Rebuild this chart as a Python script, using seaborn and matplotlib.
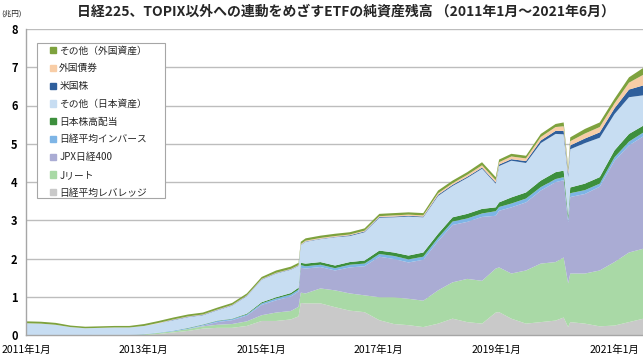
import pandas as pd
import numpy as np
import matplotlib.pyplot as plt
import matplotlib.patches as mpatches
import seaborn as sns

# Fechas de lectura (aprox. trimestrales + caídas puntuales)
dates = ["2011-01-01", "2011-04-01", "2011-07-01", "2011-10-01",
         "2012-01-01", "2012-04-01", "2012-07-01", "2012-10-01",
         "2013-01-01", "2013-04-01", "2013-07-01", "2013-10-01",
         "2014-01-01", "2014-04-01", "2014-07-01", "2014-10-01",
         "2015-01-01", "2015-04-01", "2015-07-01", "2015-08-18", "2015-09-01", "2015-10-01",
         "2016-01-01", "2016-04-01", "2016-07-01", "2016-10-01",
         "2017-01-01", "2017-04-01", "2017-07-01", "2017-10-01",
         "2018-01-01", "2018-04-01", "2018-07-01", "2018-10-01", "2018-12-25",
         "2019-01-15", "2019-04-01", "2019-07-01", "2019-10-01",
         "2020-01-01", "2020-02-20", "2020-03-19", "2020-04-01", "2020-07-01", "2020-10-01",
         "2021-01-01", "2021-04-01", "2021-06-30"]

# 兆円, grosor de cada capa (de abajo hacia arriba)
leverage = [0, 0, 0, 0,
            0, 0, 0, 0,
            0.01, 0.04, 0.08, 0.12,
            0.18, 0.20, 0.20, 0.25,
            0.38, 0.38, 0.42, 0.50, 0.85, 0.84,
            0.84, 0.74, 0.65, 0.61,
            0.40, 0.30, 0.27, 0.22,
            0.31, 0.44, 0.35, 0.31, 0.60,
            0.61, 0.44, 0.31, 0.35,
            0.39, 0.47, 0.22, 0.35, 0.31, 0.24,
            0.26, 0.35, 0.44]
jreit = [0, 0, 0, 0,
         0, 0.01, 0.01, 0.01,
         0.02, 0.03, 0.03, 0.05,
         0.06, 0.08, 0.10, 0.12,
         0.15, 0.22, 0.22, 0.25, 0.27, 0.26,
         0.39, 0.44, 0.45, 0.44,
         0.60, 0.70, 0.69, 0.69,
         0.87, 0.95, 1.13, 1.12, 1.15,
         1.17, 1.18, 1.39, 1.53,
         1.53, 1.57, 1.14, 1.27, 1.31, 1.46,
         1.66, 1.82, 1.83]
jpx400 = [0, 0, 0, 0,
          0, 0, 0, 0,
          0, 0, 0, 0,
          0.02, 0.07, 0.10, 0.15,
          0.27, 0.32, 0.38, 0.40, 0.65, 0.65,
          0.56, 0.52, 0.68, 0.76,
          1.06, 1.00, 0.95, 1.07,
          1.29, 1.50, 1.49, 1.67, 1.38,
          1.48, 1.73, 1.78, 1.91,
          2.09, 2.02, 1.60, 2.00, 2.08, 2.19,
          2.65, 2.80, 2.94]
inverse = [0.01, 0.01, 0.01, 0.01,
           0.01, 0.01, 0.01, 0.01,
           0.01, 0.01, 0.02, 0.02,
           0.02, 0.03, 0.03, 0.03,
           0.04, 0.05, 0.05, 0.05, 0.07, 0.06,
           0.06, 0.06, 0.07, 0.07,
           0.07, 0.08, 0.08, 0.08,
           0.08, 0.09, 0.09, 0.09, 0.12,
           0.10, 0.10, 0.10, 0.09,
           0.08, 0.08, 0.08, 0.10, 0.10, 0.08,
           0.09, 0.10, 0.10]
high_div = [0, 0, 0, 0,
            0, 0, 0, 0,
            0, 0, 0, 0.01,
            0.01, 0.01, 0.01, 0.02,
            0.03, 0.03, 0.04, 0.05, 0.06, 0.07,
            0.07, 0.07, 0.07, 0.08,
            0.09, 0.09, 0.10, 0.11,
            0.11, 0.11, 0.12, 0.12, 0.10,
            0.12, 0.16, 0.16, 0.17,
            0.18, 0.17, 0.10, 0.15, 0.17, 0.17,
            0.18, 0.20, 0.18]
other_jp = [0.31, 0.30, 0.27, 0.21,
            0.18, 0.18, 0.19, 0.19,
            0.21, 0.24, 0.27, 0.28,
            0.24, 0.27, 0.34, 0.46,
            0.59, 0.62, 0.61, 0.57, 0.46, 0.57,
            0.60, 0.74, 0.68, 0.74,
            0.86, 0.92, 1.02, 0.92,
            0.99, 0.82, 0.94, 1.05, 0.62,
            0.95, 0.96, 0.77, 0.98,
            1.00, 0.95, 1.00, 1.00, 1.06, 1.03,
            0.95, 0.96, 0.79]
us_stock = [0, 0, 0, 0,
            0, 0, 0, 0,
            0, 0, 0.01, 0.01,
            0.01, 0.01, 0.01, 0.01,
            0.01, 0.01, 0.01, 0.01, 0.01, 0.01,
            0.01, 0.01, 0.02, 0.02,
            0.02, 0.02, 0.02, 0.02,
            0.03, 0.03, 0.03, 0.03, 0.03,
            0.04, 0.04, 0.05, 0.07,
            0.08, 0.09, 0.08, 0.10, 0.12, 0.14,
            0.15, 0.20, 0.26]
foreign_bond = [0, 0, 0, 0,
                0, 0, 0, 0,
                0, 0.01, 0.01, 0.01,
                0.01, 0.01, 0.01, 0.01,
                0.01, 0.01, 0.01, 0.01, 0.02, 0.02,
                0.02, 0.02, 0.02, 0.02,
                0.02, 0.03, 0.03, 0.03,
                0.04, 0.04, 0.05, 0.06, 0.06,
                0.06, 0.07, 0.07, 0.09,
                0.10, 0.12, 0.10, 0.11, 0.13, 0.14,
                0.13, 0.18, 0.28]
other_foreign = [0.05, 0.05, 0.05, 0.04,
                 0.04, 0.04, 0.04, 0.04,
                 0.05, 0.05, 0.05, 0.05,
                 0.05, 0.05, 0.05, 0.05,
                 0.05, 0.06, 0.06, 0.06, 0.06, 0.06,
                 0.06, 0.06, 0.06, 0.06,
                 0.06, 0.06, 0.06, 0.06,
                 0.07, 0.07, 0.07, 0.08, 0.08,
                 0.07, 0.07, 0.07, 0.08,
                 0.08, 0.10, 0.08, 0.10, 0.12, 0.12,
                 0.12, 0.14, 0.18]

labels = ["日経平均レバレッジ", "Jリート", "JPX日経400", "日経平均インバース",
          "日本株高配当", "その他（日本資産）", "米国株", "外国債券", "その他（外国資産）"]
colors = ["#c9c9c9", "#a9d9a6", "#aaacd4", "#7eb5e6",
          "#3d8f3d", "#c7ddf2", "#2f5f9c", "#f8cda6", "#7ea23e"]
tick_years = [2011, 2013, 2015, 2017, 2019, 2021]

df = pd.DataFrame({
    labels[0]: leverage, labels[1]: jreit, labels[2]: jpx400,
    labels[3]: inverse, labels[4]: high_div, labels[5]: other_jp,
    labels[6]: us_stock, labels[7]: foreign_bond, labels[8]: other_foreign,
}, index=pd.to_datetime(dates))

sns.set_theme(style="white")
plt.rcParams['font.family'] = ['Noto Sans CJK JP', 'DejaVu Sans']

fig = plt.figure(figsize=(6.43, 3.55), dpi=100)
ax = fig.add_axes([26 / 643, 20 / 355, 617 / 643, 306 / 355])

ax.stackplot(df.index, [df[c] for c in labels], colors=colors, labels=labels, linewidth=0)

ax.set_ylim(0, 8)
ax.set_xlim(pd.Timestamp("2011-01-01"), pd.Timestamp("2021-06-30"))
ax.set_yticks(range(0, 9))
ax.set_yticklabels([str(i) for i in range(0, 9)], fontsize=8, fontweight='bold')
ax.set_xticks([pd.Timestamp(f"{y}-01-01") for y in tick_years])
ax.set_xticklabels([f"{y}年1月" for y in tick_years], fontsize=7.5)

ax.set_axisbelow(True)
ax.yaxis.grid(True, color='#bdbdbd', linewidth=1)
ax.xaxis.grid(False)
for s in ['top', 'right']:
    ax.spines[s].set_visible(False)
for s in ['left', 'bottom']:
    ax.spines[s].set_color('#a6a6a6')
    ax.spines[s].set_linewidth(1)
ax.tick_params(axis='both', which='major', direction='out', length=4, width=1,
               color='#a6a6a6', pad=2, labelcolor='#000000')
ax.tick_params(axis='x', pad=3)

# Caja de la leyenda (más margen horizontal que vertical)
box = mpatches.Rectangle((0.0178, 0.4477), 0.2075, 0.5063, transform=ax.transAxes,
                         facecolor='white', edgecolor='#a6a6a6', linewidth=0.8, zorder=4)
ax.add_patch(box)

# Leyenda manual (orden inverso al apilado)
patches = [mpatches.Patch(color=c, label=l) for c, l in zip(colors[::-1], labels[::-1])]
leg = ax.legend(handles=patches, loc='upper left', bbox_to_anchor=(0.039, 0.946),
                fontsize=7, frameon=False, handlelength=0.6, handleheight=0.6,
                handletextpad=0.35, labelspacing=0.8, borderpad=0, borderaxespad=0)
leg.set_zorder(5)

fig.text(0.538, 0.966, "日経225、TOPIX以外への連動をめざすETFの純資産残高 （2011年1月～2021年6月）",
         ha='center', va='center', fontsize=10, fontweight='bold')
fig.text(0.018, 0.962, "(兆円)", ha='center', va='center', fontsize=5.5)

fig.savefig("out.png", dpi=100)
